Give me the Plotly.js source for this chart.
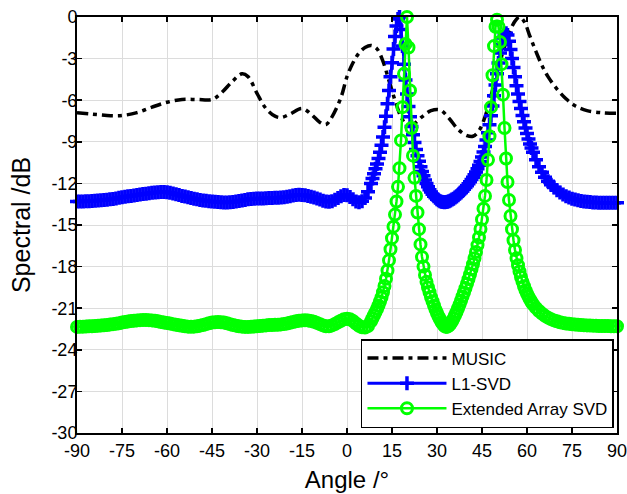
<!DOCTYPE html>
<html>
<head>
<meta charset="utf-8">
<script src="https://cdn.plot.ly/plotly-3.0.1.min.js"></script>
<style>html,body{margin:0;padding:0;background:#fff;}#chart{width:627px;height:494px;}</style>
</head>
<body>
<div id="chart"></div>
<script>
// Angle grid shared by the two marker series (deg)
const angle = [
-90,-89,-88,-87,-86,-85,-84,-83,-82,-81,-80,-79,-78,-77,-76,-75,-74,-73,-72,-71,
-70,-69,-68,-67,-66,-65,-64,-63,-62,-61,-60,-59,-58,-57,-56,-55,-54,-53,-52,-51,
-50,-49,-48,-47,-46,-45,-44,-43,-42,-41,-40,-39,-38,-37,-36,-35,-34,-33,-32,-31,
-30,-29,-28,-27,-26,-25,-24,-23,-22,-21,-20,-19,-18,-17,-16,-15,-14,-13,-12,-11,
-10,-9,-8,-7,-6,-5,-4,-3,-2,-1,0,1,2,3,4,5,6,7,8,
8.5,9,9.5,10,10.5,11,11.5,12,12.5,13,13.5,14,14.5,15,15.5,16,16.5,17,17.5,18,
18.5,19,19.5,20,20.5,21,21.5,22,22.5,23,23.5,24,24.5,25,25.5,26,26.5,27,27.5,28,
28.5,29,29.5,30,30.5,31,31.5,32,32.5,33,33.5,34,34.5,35,35.5,36,36.5,37,37.5,38,
38.5,39,39.5,40,40.5,41,41.5,42,42.5,43,43.5,44,44.5,45,45.5,46,46.5,47,47.5,48,
48.5,49,49.5,50,50.5,51,51.5,52,52.5,53,53.5,54,54.5,55,55.5,56,56.5,57,57.5,58,
58.5,59,59.5,60,60.5,61,61.5,62,
63,64,65,66,67,68,69,70,71,72,73,74,75,76,77,78,79,80,81,82,83,84,85,86,87,88,89,90
];

// L1-SVD spectrum (dB)
const l1svd = [
-13.30,-13.30,-13.30,-13.29,-13.28,-13.27,-13.26,-13.24,-13.22,-13.20,-13.18,-13.15,-13.12,-13.08,-13.04,-13.00,-12.96,-12.93,-12.90,-12.87,
-12.84,-12.80,-12.77,-12.74,-12.71,-12.68,-12.65,-12.63,-12.62,-12.62,-12.64,-12.68,-12.73,-12.78,-12.84,-12.90,-12.95,-13.00,-13.05,-13.10,
-13.15,-13.19,-13.23,-13.26,-13.29,-13.31,-13.33,-13.35,-13.36,-13.37,-13.37,-13.36,-13.34,-13.31,-13.27,-13.23,-13.19,-13.15,-13.12,-13.10,
-13.09,-13.08,-13.08,-13.07,-13.06,-13.05,-13.04,-13.03,-13.01,-12.99,-12.96,-12.92,-12.88,-12.84,-12.82,-12.83,-12.86,-12.91,-12.96,-13.02,
-13.09,-13.17,-13.25,-13.31,-13.33,-13.28,-13.18,-13.05,-12.92,-12.84,-12.86,-12.98,-13.15,-13.30,-13.36,-13.28,-13.05,-12.60,-12.00,
-11.65,-11.30,-10.95,-10.60,-10.20,-9.75,-9.25,-8.65,-7.95,-7.15,-6.25,-5.30,-4.30,-3.30,-2.30,-1.40,-0.65,-0.15,0,-0.90,
-2.10,-3.40,-4.55,-5.55,-6.45,-7.20,-7.90,-8.50,-9.05,-9.55,-10.00,-10.40,-10.80,-11.15,-11.45,-11.75,-12.00,-12.25,-12.45,-12.62,
-12.78,-12.92,-13.04,-13.14,-13.22,-13.28,-13.32,-13.35,-13.36,-13.35,-13.32,-13.28,-13.23,-13.17,-13.10,-13.02,-12.94,-12.85,-12.75,-12.65,
-12.54,-12.42,-12.30,-12.17,-12.03,-11.88,-11.72,-11.55,-11.37,-11.17,-10.95,-10.70,-10.42,-10.10,-9.74,-9.33,-8.87,-8.35,-7.77,-7.12,
-6.42,-5.68,-4.90,-4.10,-3.32,-2.60,-1.98,-1.52,-1.25,-1.18,-1.30,-1.75,-2.35,-3.00,-3.65,-4.30,-4.95,-5.55,-6.10,-6.60,
-7.10,-7.55,-8.00,-8.40,-8.80,-9.15,-9.45,-9.75,
-10.30,-10.80,-11.20,-11.55,-11.85,-12.10,-12.30,-12.50,-12.65,-12.80,-12.92,-13.02,-13.10,-13.17,-13.22,-13.27,-13.30,-13.33,-13.35,-13.37,-13.38,-13.39,-13.40,-13.40,-13.40,-13.40,-13.40,-13.40
];

// Extended Array SVD spectrum (dB)
const extSvd = [
-22.35,-22.34,-22.33,-22.32,-22.31,-22.30,-22.29,-22.27,-22.25,-22.23,-22.21,-22.18,-22.15,-22.12,-22.08,-22.04,-22.00,-21.96,-21.93,-21.90,
-21.88,-21.86,-21.85,-21.85,-21.86,-21.88,-21.91,-21.95,-21.99,-22.03,-22.07,-22.11,-22.15,-22.19,-22.23,-22.27,-22.30,-22.33,-22.34,-22.33,
-22.30,-22.26,-22.21,-22.15,-22.09,-22.04,-22.01,-22.00,-22.01,-22.04,-22.09,-22.15,-22.21,-22.26,-22.30,-22.33,-22.35,-22.35,-22.34,-22.32,
-22.30,-22.28,-22.26,-22.24,-22.22,-22.21,-22.20,-22.19,-22.17,-22.14,-22.10,-22.05,-22.00,-21.95,-21.91,-21.88,-21.87,-21.88,-21.92,-21.98,
-22.06,-22.15,-22.24,-22.30,-22.30,-22.24,-22.14,-22.02,-21.90,-21.80,-21.76,-21.80,-21.92,-22.10,-22.27,-22.38,-22.40,-22.28,-21.95,
-21.72,-21.50,-21.28,-21.05,-20.80,-20.52,-20.22,-19.85,-19.40,-18.88,-18.28,-17.55,-16.75,-15.95,-15.12,-14.25,-13.30,-12.25,-10.90,-8.90,
-6.50,-4.10,-1.95,0,-2.20,-5.30,-8.00,-10.00,-11.60,-12.90,-14.10,-15.30,-16.40,-17.30,-18.00,-18.60,-19.10,-19.50,-19.85,-20.20,
-20.50,-20.80,-21.10,-21.35,-21.60,-21.80,-22.00,-22.15,-22.28,-22.35,-22.33,-22.25,-22.12,-21.95,-21.75,-21.52,-21.28,-21.02,-20.75,-20.46,
-20.16,-19.86,-19.55,-19.23,-18.90,-18.56,-18.20,-17.82,-17.40,-16.95,-16.45,-15.90,-15.28,-14.60,-13.82,-12.90,-11.75,-10.30,-8.60,-6.50,
-4.20,-2.10,-0.70,-0.20,-0.70,-1.80,-3.40,-5.60,-8.00,-10.20,-11.90,-13.20,-14.35,-15.30,-16.10,-16.80,-17.40,-17.90,-18.35,-18.75,
-19.10,-19.42,-19.70,-19.95,-20.17,-20.37,-20.55,-20.71,
-20.98,-21.20,-21.39,-21.55,-21.68,-21.79,-21.88,-21.95,-22.01,-22.06,-22.10,-22.13,-22.16,-22.18,-22.20,-22.22,-22.23,-22.24,-22.25,-22.26,-22.27,-22.28,-22.28,-22.29,-22.29,-22.30,-22.30,-22.30
];

// MUSIC spectrum (dB), read at key angles
const musicAngle = [-90,-85,-80,-75,-70,-65,-60,-55,-50,-45,-42,-38,-35,-33,-30,-27,-24,-22,-19,-15,-12,-9,-7,-5,-2,0,2,4,6,8,10,12,14,16,18,20,22,25,28,31,34,37,40,42,44,46,48,50,52,54,56,57.5,59,61,63,65,67,70,73,76,80,85,90];
const music = [-6.9,-7.0,-7.1,-7.1,-6.9,-6.5,-6.15,-5.95,-5.95,-5.95,-5.5,-4.6,-4.1,-4.3,-5.5,-6.6,-7.15,-7.25,-7.0,-6.6,-7.0,-7.6,-7.75,-7.2,-5.8,-4.3,-3.3,-2.6,-2.2,-2.05,-2.3,-3.2,-4.6,-6.0,-7.2,-7.8,-7.75,-7.2,-6.75,-6.7,-7.3,-8.1,-8.55,-8.6,-8.2,-7.2,-5.7,-4.0,-2.5,-1.2,-0.3,0,-0.3,-1.4,-2.5,-3.5,-4.3,-5.2,-5.9,-6.4,-6.75,-6.9,-6.95];

const seriesNames = ['MUSIC', 'L1-SVD', 'Extended Array SVD'];
const xTicks = [-90,-75,-60,-45,-30,-15,0,15,30,45,60,75,90];
const xTickText = ['-90','-75','-60','-45','-30','-15','0','15','30','45','60','75','90'];
const yTicks = [0,-3,-6,-9,-12,-15,-18,-21,-24,-27,-30];
const yTickText = ['0','-3','-6','-9','-12','-15','-18','-21','-24','-27','-30'];

const FONT = 'Liberation Sans, Arial, sans-serif';

const traces = [
  {x: musicAngle, y: music, name: seriesNames[0], type: 'scatter', mode: 'lines',
   line: {color: '#000000', width: 3.5, dash: '11px,5px,4px,5px', shape: 'spline', smoothing: 1}},
  {x: angle, y: l1svd, name: seriesNames[1], type: 'scatter', mode: 'lines+markers', cliponaxis: false,
   line: {color: '#0000ff', width: 3},
   marker: {symbol: 'cross-thin-open', size: 10, color: '#0000ff', line: {width: 3.5, color: '#0000ff'}}},
  {x: angle, y: extSvd, name: seriesNames[2], type: 'scatter', mode: 'lines+markers', cliponaxis: false,
   line: {color: '#00ff00', width: 2.5},
   marker: {symbol: 'circle-open', size: 11, color: '#00ff00', line: {width: 3, color: '#00ff00'}}}
];

const axisCommon = {
  showline: true, linecolor: '#000', linewidth: 2, mirror: 'ticks',
  ticks: 'inside', ticklen: 5, tickwidth: 1.5, tickcolor: '#000',
  showgrid: true, gridcolor: '#dcdcdc', gridwidth: 1, zeroline: false,
  ticklabeloverflow: 'allow',
  tickfont: {family: FONT, size: 18, color: '#000'}
};

const layout = {
  width: 627, height: 494,
  margin: {l: 77, r: 10, t: 17, b: 61},
  paper_bgcolor: '#fff', plot_bgcolor: '#fff',
  font: {family: FONT, color: '#000'},
  showlegend: true,
  xaxis: Object.assign({}, axisCommon, {
    range: [-90, 90], tickmode: 'array', tickvals: xTicks, ticktext: xTickText,
    title: {text: 'Angle /°', font: {family: FONT, size: 24, color: '#000'}, standoff: 12}
  }),
  yaxis: Object.assign({}, axisCommon, {
    range: [-30, 0], tickmode: 'array', tickvals: yTicks, ticktext: yTickText,
    ticklabelstandoff: -6,
    title: {text: 'Spectral /dB', font: {family: FONT, size: 25, color: '#000'}, standoff: 14}
  }),
  legend: {
    x: 0.9944, y: 0.012, xanchor: 'right', yanchor: 'bottom',
    bgcolor: '#fff', bordercolor: '#000', borderwidth: 1.5,
    font: {family: FONT, size: 17, color: '#000'}, itemwidth: 79,
    tracegroupgap: 0
  }
};

Plotly.newPlot('chart', traces, layout, {displayModeBar: false, staticPlot: true});
</script>
</body>
</html>
